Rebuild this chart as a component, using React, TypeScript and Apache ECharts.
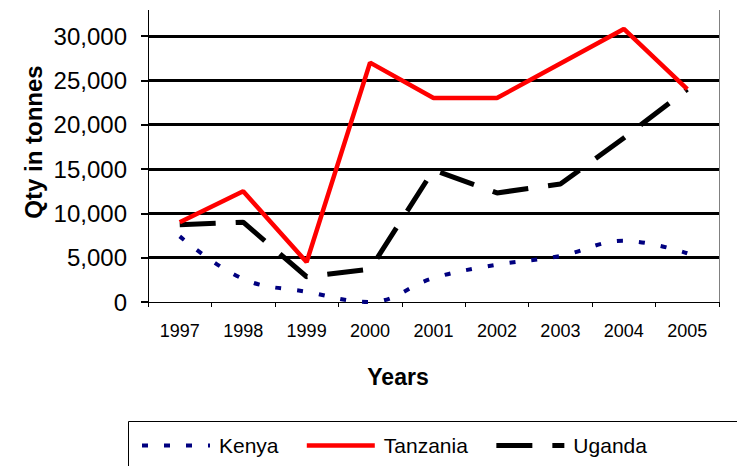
import React, { useEffect, useRef } from "react";
import * as echarts from "echarts";

const years = ["1997", "1998", "1999", "2000", "2001", "2002", "2003", "2004", "2005"];
const kenya = [7400, 2600, 1150, 0, 2700, 4200, 5200, 6900, 5500];
const tanzania = [9000, 12500, 4500, 27000, 23000, 23000, 26900, 30800, 24000];
const uganda = [8700, 9000, 2850, 3700, 14900, 12300, 13300, 18500, 24000];
const legendNames = ["Kenya", "Tanzania", "Uganda"];

const FONT = "'Liberation Sans', Arial, sans-serif";

export default function App() {
  const ref = useRef<HTMLDivElement>(null);
  useEffect(() => {
    if (!ref.current) return;
    const chart = echarts.init(ref.current, undefined, { renderer: "svg" });
    const widths: Record<string, number> = { Kenya: 4, Tanzania: 4.5, Uganda: 5 };
    chart.setOption({
      animation: false,
      backgroundColor: "#ffffff",
      grid: { left: 148, right: 18, top: 36, bottom: 164, containLabel: false },
      xAxis: {
        type: "category",
        data: years,
        boundaryGap: true,
        axisLine: { show: true, lineStyle: { color: "#000", width: 1 } },
        axisTick: { show: true, length: 5, lineStyle: { color: "#000" } },
        axisLabel: { color: "#000", fontFamily: FONT, fontSize: 18, margin: 20 },
        splitLine: { show: false },
      },
      yAxis: {
        type: "value",
        min: 0,
        max: 30000,
        interval: 5000,
        axisLine: { show: true, lineStyle: { color: "#000", width: 1 } },
        axisTick: { show: true, length: 7, lineStyle: { color: "#000", width: 2 } },
        axisLabel: {
          color: "#000",
          fontFamily: FONT,
          fontSize: 24,
          margin: 21,
          formatter: (v: number) => v.toLocaleString("en-US"),
        },
        splitLine: {
          show: true,
          lineStyle: {
            color: ["rgba(0,0,0,0)", "#000", "#000", "#000", "#000", "#000", "#000"],
            width: 3,
          },
        },
      },
      legend: {
        data: legendNames.map((n) => ({ name: n, lineStyle: { width: widths[n] } })),
        left: 140,
        top: 435,
        orient: "horizontal",
        itemWidth: 68,
        itemHeight: 14,
        itemGap: 26,
        padding: 0,
        itemStyle: { opacity: 0 },
        textStyle: { color: "#000", fontFamily: FONT, fontSize: 21, padding: [0, 0, 0, 4] },
      },
      series: [
        {
          name: "Kenya",
          type: "line",
          data: kenya,
          symbol: "none",
          smooth: 0.4,
          clip: false,
          lineStyle: { color: "#000080", width: 4, type: [6, 16] },
          itemStyle: { color: "#000080" },
          z: 2,
        },
        {
          name: "Uganda",
          type: "line",
          data: uganda,
          symbol: "none",
          clip: false,
          lineStyle: { color: "#000", width: 5, type: [36, 20] },
          itemStyle: { color: "#000" },
          z: 3,
        },
        {
          name: "Tanzania",
          type: "line",
          data: tanzania,
          symbol: "none",
          clip: false,
          lineStyle: { color: "#ff0000", width: 4.5, type: "solid" },
          itemStyle: { color: "#ff0000" },
          z: 4,
        },
      ],
      graphic: [
        { type: "line", shape: { x1: 148.5, y1: 10, x2: 148.5, y2: 36 }, style: { stroke: "#000", lineWidth: 1 } },
        { type: "line", shape: { x1: 719.5, y1: 10, x2: 719.5, y2: 307 }, style: { stroke: "#808080", lineWidth: 1 } },
        {
          type: "rect",
          shape: { x: 128.5, y: 421.5, width: 700, height: 80 },
          style: { fill: "none", stroke: "#000", lineWidth: 1 },
          z: -1,
        },
        {
          type: "text",
          x: 33,
          y: 142,
          rotation: Math.PI / 2,
          style: {
            text: "Qty in tonnes",
            font: `bold 24px ${FONT}`,
            fill: "#000",
            align: "center",
            verticalAlign: "middle",
          },
        },
        {
          type: "text",
          x: 398,
          y: 377,
          style: {
            text: "Years",
            font: `bold 23px ${FONT}`,
            fill: "#000",
            align: "center",
            verticalAlign: "middle",
          },
        },
      ],
    });
    return () => chart.dispose();
  }, []);
  return (
    <div
      ref={ref}
      style={{ position: "fixed", left: 0, top: 0, width: 737, height: 466 }}
    />
  );
}
